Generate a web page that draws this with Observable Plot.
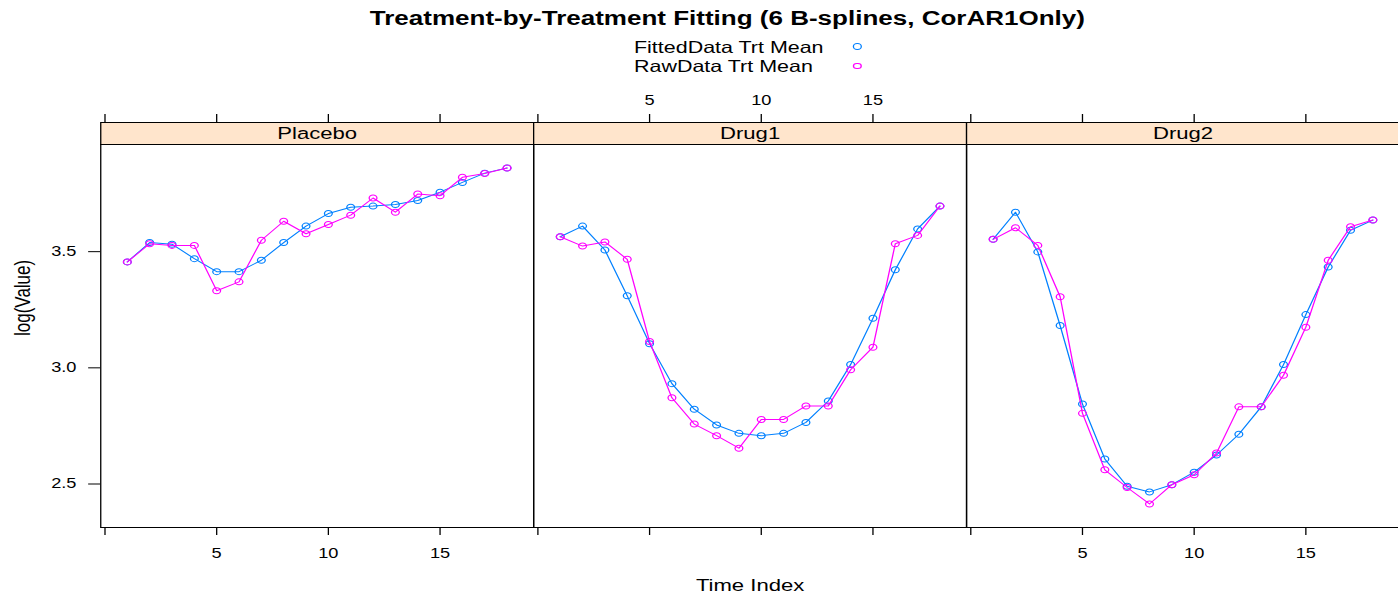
<!DOCTYPE html>
<html>
<head>
<meta charset="utf-8">
<script src="https://cdn.jsdelivr.net/npm/d3@7"></script>
<script src="https://cdn.jsdelivr.net/npm/@observablehq/plot@0.6"></script>
<style>
  html, body { margin: 0; padding: 0; background: #fff; overflow: hidden; }
  #wrap { position: relative; width: 1077px; height: 595px; transform: scaleX(1.3); transform-origin: 0 0;
          font-family: "Liberation Sans", Arial, sans-serif; color: #000; }
  #title { position: absolute; top: 8px; left: 0; width: 1119px; text-align: center;
           font-weight: bold; font-size: 20px; line-height: 20px; }
  #legend { position: absolute; top: 37.5px; left: 487.7px; font-size: 16.5px; line-height: 19.5px; }
  .sym { position: absolute; left: 168.5px; width: 4.5px; height: 4.5px; border-radius: 50%; border: 1.2px solid; }
  #chart { position: absolute; top: 80px; left: 0; }
</style>
</head>
<body>
<div id="wrap">
  <div id="title"></div>
  <div id="legend"></div>
  <div id="chart"></div>
</div>
<script>
// ---------- data ----------
const title = "Treatment-by-Treatment Fitting (6 B-splines, CorAR1Only)";
const treatments = ["Placebo", "Drug1", "Drug2"];
const seriesNames = ["FittedData Trt Mean", "RawData Trt Mean"];
const seriesColors = ["#0080ff", "#ff00ff"];
const timeIndex = [1, 2, 3, 4, 5, 6, 7, 8, 9, 10, 11, 12, 13, 14, 15, 16, 17, 18];

const fittedPlacebo = [3.456, 3.539, 3.532, 3.470, 3.414, 3.414, 3.463, 3.539, 3.610, 3.664, 3.691, 3.696, 3.703, 3.720, 3.756, 3.798, 3.838, 3.860];
const rawPlacebo    = [3.456, 3.534, 3.527, 3.527, 3.332, 3.370, 3.549, 3.631, 3.577, 3.617, 3.657, 3.731, 3.670, 3.748, 3.741, 3.820, 3.836, 3.860];
const fittedDrug1   = [3.564, 3.610, 3.507, 3.310, 3.104, 2.932, 2.822, 2.754, 2.718, 2.708, 2.718, 2.765, 2.857, 3.014, 3.213, 3.422, 3.598, 3.696];
const rawDrug1      = [3.564, 3.524, 3.542, 3.467, 3.113, 2.871, 2.758, 2.708, 2.654, 2.778, 2.778, 2.836, 2.836, 2.992, 3.089, 3.534, 3.570, 3.696];
const fittedDrug2   = [3.553, 3.670, 3.499, 3.182, 2.844, 2.608, 2.490, 2.466, 2.497, 2.551, 2.625, 2.714, 2.832, 3.014, 3.229, 3.434, 3.592, 3.636];
const rawDrug2      = [3.553, 3.603, 3.527, 3.306, 2.804, 2.561, 2.485, 2.414, 2.497, 2.540, 2.633, 2.832, 2.832, 2.968, 3.175, 3.463, 3.607, 3.636];

const xTicks = [0, 5, 10, 15];
const xTickLabels = [5, 10, 15];
const yTicks = [2.5, 3.0, 3.5];
const topLabelPanels = ["Drug1"];
const bottomLabelPanels = ["Placebo", "Drug2"];
const xLabel = "Time Index";
const yLabel = "log(Value)";

// ---------- tables ----------
const fittedByTrt = {Placebo: fittedPlacebo, Drug1: fittedDrug1, Drug2: fittedDrug2};
const rawByTrt = {Placebo: rawPlacebo, Drug1: rawDrug1, Drug2: rawDrug2};
const fitted = treatments.flatMap(trt => timeIndex.map((t, i) => ({trt, t, v: fittedByTrt[trt][i]})));
const raw = treatments.flatMap(trt => timeIndex.map((t, i) => ({trt, t, v: rawByTrt[trt][i]})));
const topLabels = topLabelPanels.flatMap(trt => xTickLabels.map(t => ({trt, t})));
const bottomLabels = bottomLabelPanels.flatMap(trt => xTickLabels.map(t => ({trt, t})));

// lattice-style 7% range extension
const ext = (lo, hi) => { const d = (hi - lo) * 0.07; return [lo - d, hi + d]; };
const xDomain = ext(d3.min(timeIndex), d3.max(timeIndex));
const allV = fitted.concat(raw).map(d => d.v);
const yDomain = ext(d3.min(allV), d3.max(allV));

// ---------- title & legend ----------
document.getElementById("title").textContent = title;
const legend = document.getElementById("legend");
seriesNames.forEach((name, i) => {
  const row = document.createElement("div");
  row.style.position = "relative";
  row.textContent = name;
  const s = document.createElement("span");
  s.className = "sym";
  s.style.borderColor = seriesColors[i];
  s.style.top = "5.5px";
  row.appendChild(s);
  legend.appendChild(row);
});

// ---------- chart ----------
const font = "Liberation Sans, Arial, sans-serif";
const chart = Plot.plot({
  width: 1077,
  height: 515,
  marginLeft: 76.2,
  marginRight: 0,
  marginTop: 64,
  marginBottom: 68,
  style: {fontFamily: font, fontSize: "14px", color: "#000", background: "transparent", overflow: "visible"},
  fx: {domain: treatments, padding: 0, axis: null, label: null},
  x: {domain: xDomain, label: null},
  y: {domain: yDomain, label: null},
  marks: [
    // strips
    Plot.frame({fill: "#ffe5cc", stroke: "#000", strokeWidth: 1, insetTop: -22, insetBottom: 383}),
    Plot.text(treatments, {fx: d => d, text: d => d, frameAnchor: "top", lineAnchor: "middle", dy: -11, fontSize: 17, fill: "#000"}),
    // panel frames
    Plot.frame({stroke: "#000", strokeWidth: 1}),
    // series
    Plot.line(fitted, {fx: "trt", x: "t", y: "v", stroke: seriesColors[0], strokeWidth: 1}),
    Plot.dot(fitted, {fx: "trt", x: "t", y: "v", stroke: seriesColors[0], r: 3, strokeWidth: 1, fill: "none"}),
    Plot.line(raw, {fx: "trt", x: "t", y: "v", stroke: seriesColors[1], strokeWidth: 1}),
    Plot.dot(raw, {fx: "trt", x: "t", y: "v", stroke: seriesColors[1], r: 3, strokeWidth: 1, fill: "none"}),
    // x axes (ticks on every panel, alternating labels)
    Plot.axisX({anchor: "bottom", ticks: xTicks, tickSize: 8, tickFormat: () => "", label: null}),
    Plot.axisX({anchor: "top", ticks: xTicks, tickSize: 8, dy: -23, tickFormat: () => "", label: null}),
    Plot.text(topLabels, {fx: "trt", x: "t", text: "t", frameAnchor: "top", lineAnchor: "middle", dy: -44, fontSize: 14, fill: "#000"}),
    Plot.text(bottomLabels, {fx: "trt", x: "t", text: "t", frameAnchor: "bottom", lineAnchor: "middle", dy: 26, fontSize: 14, fill: "#000"}),
    // y axis
    Plot.axisY({anchor: "left", ticks: yTicks, tickSize: 9.2, tickPadding: 9.5, tickFormat: d3.format(".1f"), fontSize: 14, label: null}),
    Plot.text(["Placebo"], {fx: d => d, text: () => yLabel, frameAnchor: "left", lineAnchor: "middle", rotate: -90, dx: -60, fontSize: 17, fill: "#000"}),
    // x label
    Plot.text(["Drug1"], {fx: d => d, text: () => xLabel, frameAnchor: "bottom", lineAnchor: "middle", dy: 58, fontSize: 17, fill: "#000"})
  ]
});
document.getElementById("chart").appendChild(chart);
</script>
</body>
</html>
